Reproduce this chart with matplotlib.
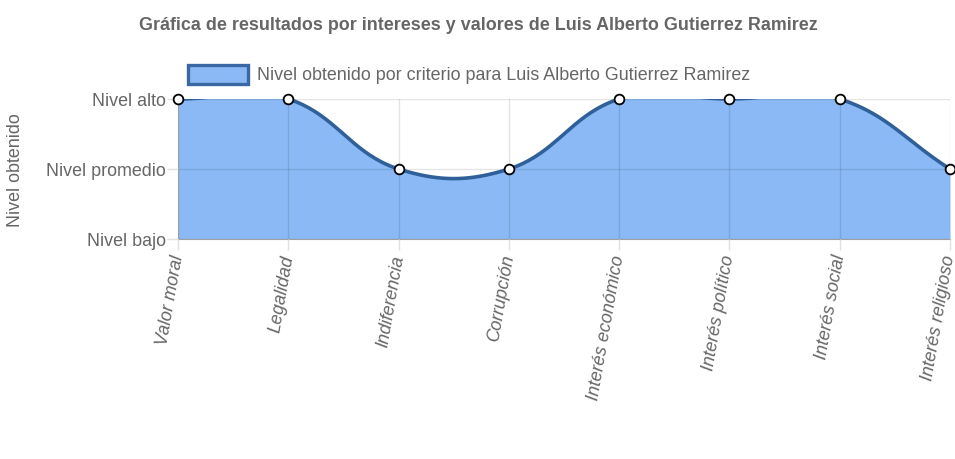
import numpy as np
import matplotlib.pyplot as plt
from matplotlib.patches import Rectangle

# DATOS
titulo = "Gráfica de resultados por intereses y valores de Luis Alberto Gutierrez Ramirez"
serie = "Nivel obtenido por criterio para Luis Alberto Gutierrez Ramirez"
categorias = ["Valor moral", "Legalidad", "Indiferencia", "Corrupción",
              "Interés económico", "Interés político", "Interés social",
              "Interés religioso"]
niveles = ["Nivel bajo", "Nivel promedio", "Nivel alto"]
valores = [2, 2, 1, 1, 2, 2, 2, 1]

plt.rcParams['font.family'] = ['Liberation Sans', 'DejaVu Sans']
GRIS = "#666666"
AZUL = "#8ab9f5"
BORDE = "#30609a"
FS = 12.9

W, H = 955, 460
fig = plt.figure(figsize=(W / 100, H / 100), dpi=100)
left, right, top, bottom = 178, 950, 100, 240
ax = fig.add_axes([left / W, 1 - bottom / H, (right - left) / W, (bottom - top) / H])

x = np.arange(len(categorias))
y = np.array(valores, dtype=float)

# SPLINE (tension 0.4, calculada en pixeles)
sx = (right - left) / (len(categorias) - 1)
sy = (bottom - top) / (len(niveles) - 1)
P = np.column_stack([x * sx, y * sy])
t = 0.4
cp_prev, cp_next = [], []
for i in range(len(P)):
    prev = P[i - 1] if i > 0 else P[i]
    nxt = P[i + 1] if i < len(P) - 1 else P[i]
    d01 = np.hypot(*(P[i] - prev))
    d12 = np.hypot(*(nxt - P[i]))
    s01 = d01 / (d01 + d12) if d01 + d12 else 0
    s12 = d12 / (d01 + d12) if d01 + d12 else 0
    cp_prev.append(P[i] - t * s01 * (nxt - prev))
    cp_next.append(P[i] + t * s12 * (nxt - prev))
u = np.linspace(0, 1, 40)[:, None]
curva = []
for i in range(len(P) - 1):
    a, b, c, d = P[i], cp_next[i], cp_prev[i + 1], P[i + 1]
    seg = ((1 - u) ** 3) * a + 3 * ((1 - u) ** 2) * u * b + 3 * (1 - u) * u ** 2 * c + u ** 3 * d
    curva.append(seg)
curva = np.vstack(curva)
cx, cy = curva[:, 0] / sx, curva[:, 1] / sy

ax.fill_between(cx, cy, 0, color=AZUL, lw=0, zorder=1)
ax.plot(cx, cy, color=BORDE, lw=2.6, zorder=3, solid_capstyle='round')
ax.plot(x, y, 'o', ms=7, mfc='white', mec='black', mew=1.3, zorder=4,
        clip_on=False)

ax.set_xlim(0, len(categorias) - 1)
ax.set_ylim(0, len(niveles) - 1)
ax.set_axisbelow(False)
ax.grid(True, color='black', alpha=0.1, lw=1)
ax.set_yticks(range(len(niveles)))
ax.set_yticklabels(niveles)
ax.set_xticks(x)
ax.set_xticklabels(categorias, rotation=80, ha='right', va='center',
                   rotation_mode='anchor', style='italic')
ax.tick_params(axis='both', colors='#e0e0e0', labelcolor=GRIS,
               labelsize=FS, length=8, width=1)
ax.tick_params(axis='y', pad=1)
ax.tick_params(axis='x', pad=3)
for s in ['top', 'right']:
    ax.spines[s].set_visible(False)
ax.spines['left'].set_color('#b0b0b0')
ax.spines['bottom'].set_color('#a0a0a0')

# TITULOS
fig.text(478 / W, 1 - 25 / H, titulo, ha='center', va='center',
         fontsize=FS, fontweight='bold', color=GRIS)
fig.text(16 / W, 1 - 170 / H, "Nivel obtenido", rotation=90, ha='center',
         va='center', fontsize=FS, color=GRIS)

# LEYENDA
fig.add_artist(Rectangle((188 / W, 1 - 85 / H), 60 / W, 19 / H,
                         transform=fig.transFigure, facecolor=AZUL,
                         edgecolor='#3a68a3', lw=2.4))
fig.text(257 / W, 1 - 75 / H, serie, ha='left', va='center',
         fontsize=FS, color=GRIS)

fig.savefig("out.png", dpi=100)
